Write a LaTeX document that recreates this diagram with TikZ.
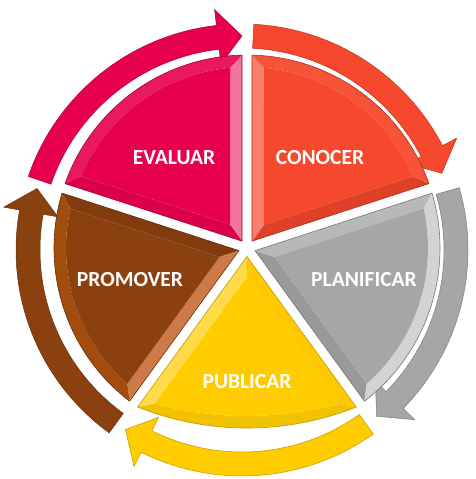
\documentclass[tikz,border=0pt]{standalone}
\usepackage{fontspec}
\setmainfont{Carlito}
\definecolor{cPink}{RGB}{230,0,78}
\definecolor{cOrange}{RGB}{245,72,44}
\definecolor{cGray}{RGB}{166,166,166}
\definecolor{cYellow}{RGB}{255,204,0}
\definecolor{cBrown}{RGB}{139,64,16}
\definecolor{cCopper}{RGB}{205,122,72}
\tikzset{
  lbl/.style={text=white, font=\bfseries\fontsize{21.5}{25}\selectfont, inner sep=0pt},
}
% segment: #1 a1, #2 a2, #3 base, #4 a1-facet, #5 arc-facet, #6 a2-facet
\newcommand\pieseg[6]{%
  \fill[#4] ({(#1+#2)/2}:8.5pt) -- ({#1+1.48}:193pt) -- ({#1+5.39}:181pt) -- ({(#1+#2)/2}:28.9pt) -- cycle;
  \fill[#6] ({(#1+#2)/2}:8.5pt) -- ({#2-1.48}:193pt) -- ({#2-5.39}:181pt) -- ({(#1+#2)/2}:28.9pt) -- cycle;
  \fill[#5] ({#1+1.48}:193pt) arc[start angle={#1+1.48}, end angle={#2-1.48}, radius=193pt] -- ({#2-5.39}:181pt) arc[start angle={#2-5.39}, end angle={#1+5.39}, radius=181pt] -- cycle;
  \fill[#3] ({(#1+#2)/2}:28.9pt) -- ({#1+5.39}:181pt) arc[start angle={#1+5.39}, end angle={#2-5.39}, radius=181pt] -- cycle;
  \draw[#3!70!black, line width=0.6pt] ({(#1+#2)/2}:8.5pt) -- ({#1+1.48}:193pt) arc[start angle={#1+1.48}, end angle={#2-1.48}, radius=193pt] -- cycle;
}
% arrow: #1 tail angle, #2 tip angle, #3 colour
\newcommand\cycarrow[3]{%
  \filldraw[fill=#3, draw=#3!75!black, line width=0.5pt] ({#1}:226pt) arc[start angle={#1}, end angle={#2+6.5}, radius=226pt] -- ({#2+6.5}:242pt) -- ({#2}:214pt) -- ({#2+6.5}:187pt) -- ({#2+6.5}:202pt) arc[start angle={#2+6.5}, end angle={#1}, radius=202pt] -- cycle;
}
\begin{document}
\begin{tikzpicture}[x=1pt,y=1pt]
\useasboundingbox (0,0) rectangle (475,479);
% cycle arrows
\begin{scope}[shift={(242,229)}]
  \cycarrow{161}{90}{cPink}
  \cycarrow{87}{21}{cOrange}
  \cycarrow{16}{-51}{cGray}
  \cycarrow{-54.5}{-123}{cYellow}
  \cycarrow{-126}{-196.7}{cBrown}
\end{scope}
% pie segments
\begin{scope}[shift={(247,231)}]
  \pieseg{18}{90}{cOrange}{cOrange!90!black}{cOrange!94!white}{cOrange!70!white}
  \pieseg{90}{162}{cPink}{cPink!55!white}{cPink!90!white}{cPink!95!black}
  \pieseg{162}{234}{cBrown}{cBrown!92!black}{cBrown!80!orange}{cCopper}
  \pieseg{306}{378}{cGray}{cGray!92!black}{cGray!50!white}{cGray!80!white}
  % PUBLICAR with flatter arc
  \fill[cYellow!70!white] (-90:8.5pt) -- (-124.52:193pt) -- (-120.61:181pt) -- (-90:28.9pt) -- cycle;
  \fill[cYellow!95!orange] (-90:8.5pt) -- (-55.48:193pt) -- (-59.39:181pt) -- (-90:28.9pt) -- cycle;
  \fill[cYellow!95!black] (-124.52:193pt) arc[start angle=-111.76, end angle=-68.24, radius=294.9pt] -- (-59.39:181pt) arc[start angle=-74.93, end angle=-105.07, radius=354.5pt] -- cycle;
  \fill[cYellow] (-90:28.9pt) -- (-120.61:181pt) arc[start angle=-105.07, end angle=-74.93, radius=354.5pt] -- cycle;
  \draw[cYellow!75!black, line width=0.6pt] (-90:8.5pt) -- (-124.52:193pt) arc[start angle=-111.76, end angle=-68.24, radius=294.9pt] -- cycle;
\end{scope}
% labels
\node[lbl] (evaluar) at (174,321) {EVALUAR};
\node[lbl] (conocer) at (320,321) {CONOCER};
\node[lbl] (planificar) at (364,199) {PLANIFICAR};
\node[lbl] (promover) at (130,199) {PROMOVER};
\node[lbl] (publicar) at (247,97) {PUBLICAR};
\end{tikzpicture}
\end{document}
